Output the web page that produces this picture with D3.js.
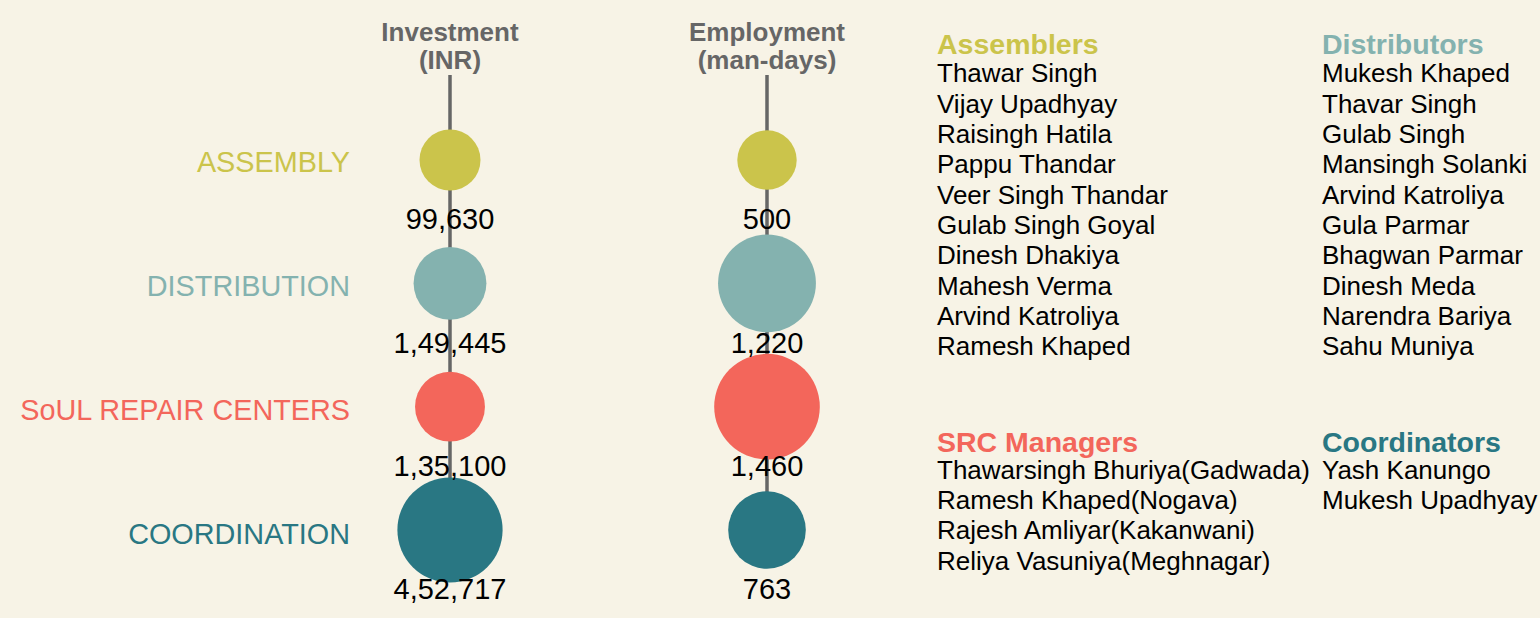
<!DOCTYPE html>
<html>
<head>
<meta charset="utf-8">
<script src="https://cdn.jsdelivr.net/npm/d3@7/dist/d3.min.js"></script>
<style>
  html, body { margin: 0; padding: 0; background: #f7f3e6; }
  svg { display: block; }
  text { font-family: "Liberation Sans", Arial, Helvetica, sans-serif; }
</style>
</head>
<body>
<svg id="chart" width="1540" height="618"></svg>
<script>
// ---------- data ----------
const categories = ["ASSEMBLY", "DISTRIBUTION", "SoUL REPAIR CENTERS", "COORDINATION"];
const investment = [99630, 149445, 135100, 452717];
const employment = [500, 1220, 1460, 763];
const columnKeys = ["Investment", "Employment"];
const columnTitles = [["Investment", "(INR)"], ["Employment", "(man-days)"]];
const categoryColors = ["#cbc44b", "#84b2af", "#f3665b", "#297783"];

const groupTitles = ["Assemblers", "Distributors", "SRC Managers", "Coordinators"];
const assemblers = ["Thawar Singh", "Vijay Upadhyay", "Raisingh Hatila", "Pappu Thandar", "Veer Singh Thandar",
  "Gulab Singh Goyal", "Dinesh Dhakiya", "Mahesh Verma", "Arvind Katroliya", "Ramesh Khaped"];
const distributors = ["Mukesh Khaped", "Thavar Singh", "Gulab Singh", "Mansingh Solanki", "Arvind Katroliya",
  "Gula Parmar", "Bhagwan Parmar", "Dinesh Meda", "Narendra Bariya", "Sahu Muniya"];
const srcManagers = ["Thawarsingh Bhuriya(Gadwada)", "Ramesh Khaped(Nogava)", "Rajesh Amliyar(Kakanwani)",
  "Reliya Vasuniya(Meghnagar)"];
const coordinators = ["Yash Kanungo", "Mukesh Upadhyay"];
const groupMembers = [assemblers, distributors, srcManagers, coordinators];

// Indian digit grouping (e.g. 1,49,445)
function indianFormat(n) {
  const s = String(Math.round(n));
  if (s.length <= 3) return s;
  const last3 = s.slice(-3);
  let rest = s.slice(0, -3);
  const parts = [];
  while (rest.length > 2) { parts.unshift(rest.slice(-2)); rest = rest.slice(0, -2); }
  if (rest.length) parts.unshift(rest);
  return parts.join(",") + "," + last3;
}

// ---------- layout ----------
const svg = d3.select("#chart");
svg.append("rect").attr("width", 1540).attr("height", 618).attr("fill", "#f7f3e6");

const y = d3.scalePoint().domain(categories).range([160, 530]);
const yLabel = d3.scalePoint().domain(categories).range([161.5, 534]);
const x = d3.scalePoint().domain(columnKeys).range([450, 767]);
const color = d3.scaleOrdinal().domain(categories).range(categoryColors);

const columnData = [investment, employment];
const rScales = [
  d3.scaleLog().domain(d3.extent(investment)).range([30.5, 52.6]),
  d3.scaleLog().domain(d3.extent(employment)).range([29.7, 52.8])
];

// category labels
svg.append("g").selectAll("text").data(categories).join("text")
  .attr("x", 350).attr("y", d => yLabel(d)).attr("dy", "0.36em")
  .attr("text-anchor", "end")
  .attr("font-size", 28.8)
  .attr("fill", d => color(d))
  .text(d => d);

columnKeys.forEach((key, ci) => {
  const cx = x(key);
  const g = svg.append("g");
  // column title
  const t = g.append("text").attr("x", cx).attr("text-anchor", "middle")
    .attr("font-size", 26).attr("font-weight", "bold").attr("fill", "#666666");
  columnTitles[ci].forEach((line, li) => {
    t.append("tspan").attr("x", cx).attr("y", 41 + li * 27.5).text(line);
  });
  // vertical stem
  g.append("line")
    .attr("x1", cx).attr("x2", cx)
    .attr("y1", 75).attr("y2", y(categories[categories.length - 1]))
    .attr("stroke", "#666666").attr("stroke-width", 3.5);
  // circles
  g.selectAll("circle").data(categories).join("circle")
    .attr("cx", cx).attr("cy", d => y(d))
    .attr("r", (d, i) => rScales[ci](columnData[ci][i]))
    .attr("fill", d => color(d));
  // value labels
  g.selectAll("text.val").data(categories).join("text")
    .attr("class", "val")
    .attr("x", cx).attr("y", d => y(d) + 59).attr("dy", "0.36em")
    .attr("text-anchor", "middle")
    .attr("font-size", 29).attr("fill", "#000")
    .text((d, i) => indianFormat(columnData[ci][i]));
});

// ---------- name lists ----------
const gx = d3.scalePoint().domain([0, 1]).range([937, 1322]);
const gy = d3.scalePoint().domain([0, 1]).range([44, 442]);
const lineH = 30.33;
groupTitles.forEach((title, gi) => {
  const px = gx(gi % 2), py = gy(Math.floor(gi / 2));
  const g = svg.append("g");
  g.append("text").attr("x", px).attr("y", py).attr("dy", "0.36em")
    .attr("font-size", 28.5).attr("font-weight", "bold")
    .attr("fill", categoryColors[gi]).text(title);
  g.selectAll("text.name").data(groupMembers[gi]).join("text")
    .attr("class", "name")
    .attr("x", px).attr("y", (d, i) => py + (i + 1) * lineH - (gi >= 2 ? 3 : 1.5)).attr("dy", "0.36em")
    .attr("font-size", 26).attr("fill", "#000")
    .text(d => d);
});
</script>
</body>
</html>
